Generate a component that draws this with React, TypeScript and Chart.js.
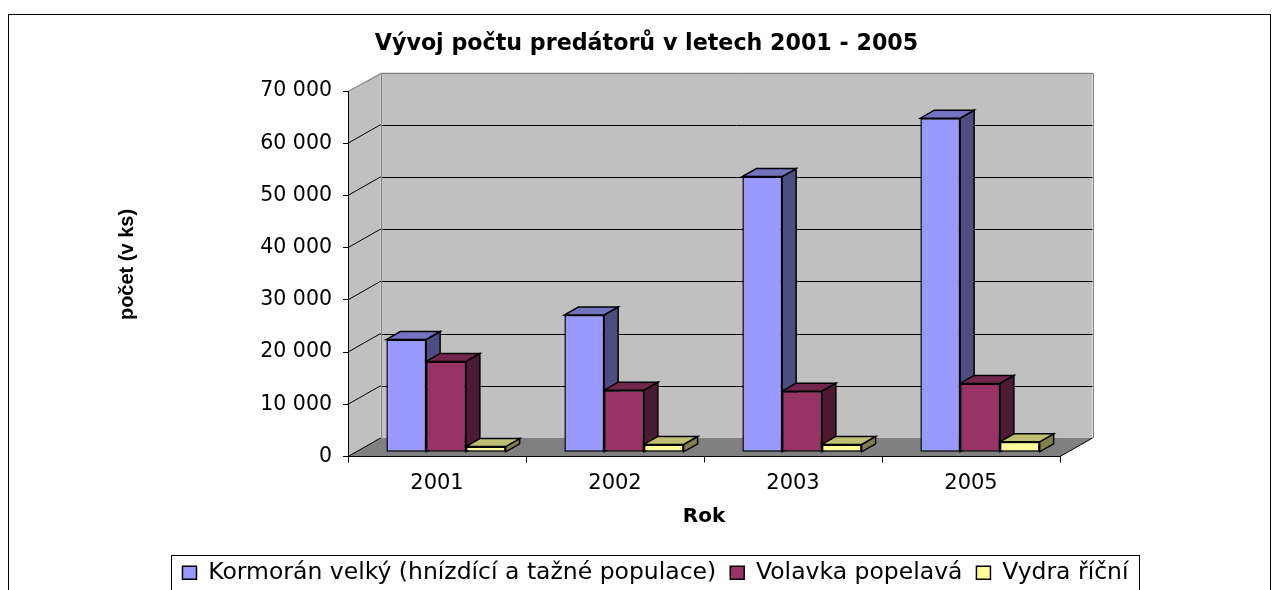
import React, { useEffect, useRef } from "react";
import { Chart, registerables } from "chart.js";

Chart.register(...registerables);

// ---- data ----
const TITLE = "Vývoj počtu predátorů v letech 2001 - 2005";
const X_TITLE = "Rok";
const Y_TITLE = "počet (v ks)";
const CATEGORIES = ["2001", "2002", "2003", "2005"];
const SERIES_NAMES = [
  "Kormorán velký (hnízdící a tažné populace)",
  "Volavka popelavá",
  "Vydra říční",
];
const KORMORAN = [21600, 26300, 52800, 64000];
const VOLAVKA = [17400, 11900, 11700, 13200];
const VYDRA = [1100, 1500, 1500, 2000];
const Y_MIN = 0;
const Y_MAX = 70000;
const Y_STEP = 10000;

// ---- styles ----
const FONT = "'DejaVu Sans', sans-serif";
const FRONT = ["#9999FF", "#993366", "#FFFF99"];
const TOP = ["#7373BF", "#73264D", "#BFBF73"];
const SIDE = ["#4D4D80", "#4D1A33", "#80804D"];
const WALL = "#C0C0C0";
const FLOOR = "#808080";
const EDGE = "#808080";
const WALL_DX = 32.5;
const WALL_DY = 18.5;
const BAR_OX = 9;
const BAR_OY = 4.2;
const BAR_DX = 14;
const BAR_DY = 8;
const BAR_LINE = 1.5;
const LEGEND_SHIFT = 9;

const fmt = (v: number) => String(v).replace(/\B(?=(\d{3})+(?!\d))/g, " ");

function poly(ctx: CanvasRenderingContext2D, pts: number[][], fill?: string, stroke?: string, lw = 1) {
  ctx.beginPath();
  pts.forEach(([x, y], i) => (i === 0 ? ctx.moveTo(x, y) : ctx.lineTo(x, y)));
  ctx.closePath();
  if (fill) {
    ctx.fillStyle = fill;
    ctx.fill();
  }
  if (stroke) {
    ctx.strokeStyle = stroke;
    ctx.lineWidth = lw;
    ctx.lineJoin = "miter";
    ctx.stroke();
  }
}

function seg(ctx: CanvasRenderingContext2D, x1: number, y1: number, x2: number, y2: number, color: string) {
  ctx.beginPath();
  ctx.moveTo(x1, y1);
  ctx.lineTo(x2, y2);
  ctx.strokeStyle = color;
  ctx.lineWidth = 1;
  ctx.stroke();
}

const px = (v: number) => Math.round(v) + 0.5;

const threeD = {
  id: "threeD",
  afterLayout(chart: any) {
    if (chart.legend) {
      chart.legend.left += LEGEND_SHIFT;
      chart.legend.right += LEGEND_SHIFT;
    }
  },
  beforeDraw(chart: any) {
    const { ctx, chartArea: a, scales } = chart;
    const ys = scales.y;
    const L = a.left;
    const R = a.right;
    const y0 = ys.getPixelForValue(Y_MIN);
    const yT = ys.getPixelForValue(Y_MAX);
    const DX = WALL_DX;
    const DY = WALL_DY;
    ctx.save();
    // outer frame
    ctx.strokeStyle = "#000";
    ctx.lineWidth = 1;
    ctx.strokeRect(8.5, 14.5, 1262, 700);
    // walls
    poly(ctx, [[L, y0], [L, yT], [L + DX, yT - DY], [L + DX, y0 - DY]], WALL);
    ctx.fillStyle = WALL;
    ctx.fillRect(L + DX, yT - DY, R - L, y0 - yT);
    poly(ctx, [[L, y0], [L + DX, y0 - DY], [R + DX, y0 - DY], [R, y0]], FLOOR);
    // gridlines
    for (const t of ys.ticks) {
      const v = t.value;
      if (v === Y_MAX) continue;
      const py = ys.getPixelForValue(v);
      seg(ctx, L, py, L + DX, py - DY, "#000");
      if (v !== Y_MIN) seg(ctx, L + DX, px(py - DY), R + DX, px(py - DY), "#000");
    }
    seg(ctx, R, y0, R + DX, y0 - DY, "#000");
    // grey edges
    ctx.beginPath();
    ctx.moveTo(L, px(yT));
    ctx.lineTo(px(L + DX), px(yT - DY));
    ctx.lineTo(px(R + DX), px(yT - DY));
    ctx.lineTo(px(R + DX), y0 - DY);
    ctx.moveTo(px(L + DX), px(yT - DY));
    ctx.lineTo(px(L + DX), y0 - DY);
    ctx.strokeStyle = EDGE;
    ctx.lineWidth = 1;
    ctx.stroke();
    ctx.restore();
  },
  beforeDatasetsDraw(chart: any) {
    const ctx = chart.ctx;
    ctx.save();
    ctx.translate(BAR_OX, -BAR_OY);
    const n = chart.data.labels.length;
    for (let i = 0; i < n; i++) {
      chart.data.datasets.forEach((_ds: any, d: number) => {
        const meta = chart.getDatasetMeta(d);
        const el = meta.data[i];
        if (!el) return;
        const { x, y, base, width } = el.getProps(["x", "y", "base", "width"], true);
        const l = x - width / 2;
        const r = x + width / 2;
        poly(ctx, [[r, y], [r + BAR_DX, y - BAR_DY], [r + BAR_DX, base - BAR_DY], [r, base]], SIDE[d], "#000", BAR_LINE);
        poly(ctx, [[l, y], [r, y], [r + BAR_DX, y - BAR_DY], [l + BAR_DX, y - BAR_DY]], TOP[d], "#000", BAR_LINE);
      });
    }
  },
  afterDatasetsDraw(chart: any) {
    chart.ctx.restore();
  },
  afterDraw(chart: any) {
    const { ctx, scales } = chart;
    ctx.save();
    // legend frame
    const hb = chart.legend?.legendHitBoxes || [];
    if (hb.length) {
      const left = Math.min(...hb.map((h: any) => h.left)) - 11;
      const right = Math.max(...hb.map((h: any) => h.left + h.width)) + 11;
      const top = hb[0].top - 6.5;
      ctx.strokeStyle = "#000";
      ctx.lineWidth = 1;
      ctx.strokeRect(px(left), px(top), Math.round(right - left), 100);
    }
    // y axis title
    const ys = scales.y;
    const cy = (ys.getPixelForValue(Y_MAX) - WALL_DY + ys.getPixelForValue(Y_MIN)) / 2;
    ctx.translate(127, cy);
    ctx.rotate(-Math.PI / 2);
    ctx.font = "bold 20px 'Liberation Sans', Arial, sans-serif";
    ctx.fillStyle = "#000";
    ctx.textAlign = "center";
    ctx.textBaseline = "middle";
    ctx.fillText(Y_TITLE, 0, 0);
    ctx.restore();
  },
};

export default function App() {
  const ref = useRef<HTMLCanvasElement>(null);
  useEffect(() => {
    const canvas = ref.current!;
    const seriesData = [KORMORAN, VOLAVKA, VYDRA];
    const chart = new Chart(canvas, {
      type: "bar",
      data: {
        labels: CATEGORIES,
        datasets: SERIES_NAMES.map((name, i) => ({
          label: name,
          data: seriesData[i],
          yAxisID: "y",
          backgroundColor: FRONT[i],
          borderColor: "#000",
          borderWidth: BAR_LINE,
          borderSkipped: false,
          categoryPercentage: 0.67,
          barPercentage: 1,
          clip: false as any,
        })),
      },
      options: {
        responsive: false,
        animation: false,
        devicePixelRatio: 1,
        events: [],
        layout: { padding: { left: 141, right: 125, top: 0, bottom: -4.5 } },
        plugins: {
          title: {
            display: true,
            text: TITLE,
            color: "#000",
            font: { family: FONT, size: 22.2, weight: "bold" },
            padding: { top: 30.7, bottom: 33.66 },
          },
          legend: {
            position: "bottom",
            labels: {
              color: "#000",
              font: { family: FONT, size: 23.5 },
              boxWidth: 14,
              boxHeight: 13,
              padding: 14,
            },
          },
          tooltip: { enabled: false },
        },
        scales: {
          x: {
            type: "category",
            offset: true,
            grid: { display: true, drawOnChartArea: false, drawTicks: true, tickLength: 6, color: "#000", offset: true },
            border: { display: true, color: "#000", width: 1 },
            ticks: { color: "#000", font: { family: FONT, size: 21 }, padding: 8.7, maxRotation: 0, autoSkip: false },
            title: {
              display: true,
              text: X_TITLE,
              color: "#000",
              font: { family: FONT, size: 20, weight: "bold" },
              padding: { top: 0, bottom: 18.7 },
            },
            afterFit: (s: any) => {
              s.height = 90.5;
            },
          },
          y: {
            type: "linear",
            position: "left",
            min: Y_MIN,
            max: Y_MAX,
            ticks: {
              stepSize: Y_STEP,
              color: "#000",
              font: { family: FONT, size: 20.5 },
              padding: 11,
              callback: (v: any) => fmt(Number(v)),
            },
            grid: { display: true, drawOnChartArea: false, drawTicks: true, tickLength: 5, color: "#000" },
            border: { display: true, color: "#000", width: 1 },
            afterFit: (s: any) => {
              s.width = 207;
            },
          },
          yR: {
            type: "linear",
            position: "right",
            display: true,
            grid: { display: false },
            ticks: { display: false },
            border: { display: false },
            afterFit: (s: any) => {
              s.width = 92;
            },
          },
        },
      } as any,
      plugins: [threeD as any],
    });
    return () => chart.destroy();
  }, []);
  return (
    <div style={{ position: "fixed", left: 0, top: 0, width: 1277, height: 590, background: "#fff" }}>
      <canvas ref={ref} width={1277} height={590} style={{ display: "block", width: "1277px", height: "590px" }} />
    </div>
  );
}
